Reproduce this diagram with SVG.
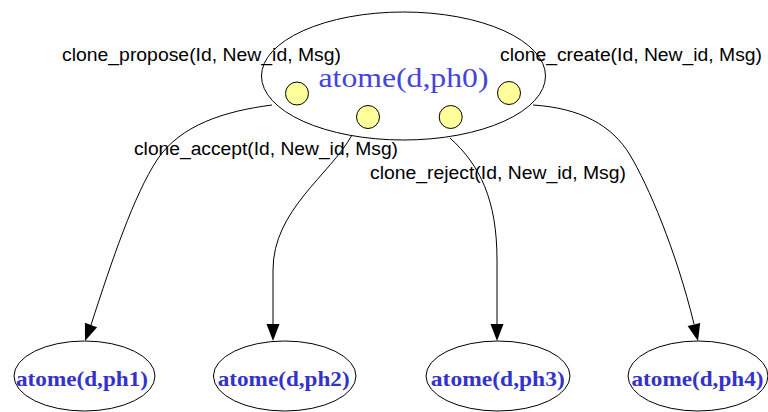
<svg xmlns="http://www.w3.org/2000/svg" width="768" height="412" viewBox="0 0 768 412">
<style>
.node{fill:#ffffff;stroke:#000000;stroke-width:1}
.port{fill:#ffff99;stroke:#000000;stroke-width:1}
.edge{fill:none;stroke:#000000;stroke-width:1}
.head{fill:#000000;stroke:none}
.lbl{font-family:"Liberation Sans",Arial,sans-serif;font-size:18px;fill:#000000}
.big{font-family:"Liberation Serif","Times New Roman",serif;font-size:28px;fill:#4444dd;text-anchor:middle}
.small{font-family:"Liberation Serif","Times New Roman",serif;font-size:22px;font-weight:bold;fill:#3333cc;text-anchor:middle}
</style>
<rect width="768" height="412" fill="#ffffff"/>
<g id="ph0">
<ellipse class="node" cx="403.5" cy="76" rx="142" ry="64"/>
<text class="big" x="403.5" y="87" textLength="170" lengthAdjust="spacingAndGlyphs">atome(d,ph0)</text>
<circle class="port" cx="297" cy="93.5" r="11.5"/>
<circle class="port" cx="368" cy="117" r="11.5"/>
<circle class="port" cx="450.7" cy="117" r="11.5"/>
<circle class="port" cx="509" cy="93" r="11.5"/>
</g>
<g id="ph1">
<ellipse class="node" cx="84.5" cy="376" rx="70.5" ry="35"/>
<text class="small" x="82" y="386" textLength="132" lengthAdjust="spacingAndGlyphs">atome(d,ph1)</text>
</g>
<g id="ph2">
<ellipse class="node" cx="284.7" cy="376" rx="71.3" ry="35"/>
<text class="small" x="283.7" y="386" textLength="132" lengthAdjust="spacingAndGlyphs">atome(d,ph2)</text>
</g>
<g id="ph3">
<ellipse class="node" cx="498" cy="376" rx="72" ry="35"/>
<text class="small" x="497.8" y="386" textLength="134" lengthAdjust="spacingAndGlyphs">atome(d,ph3)</text>
</g>
<g id="ph4">
<ellipse class="node" cx="698" cy="376" rx="70" ry="35"/>
<text class="small" x="697.5" y="386" textLength="132" lengthAdjust="spacingAndGlyphs">atome(d,ph4)</text>
</g>
<g id="connectors">
<path class="edge" d="M272,105 C225,111 180,125 157,160 S112,260 91,325"/>
<polygon class="head" points="85,341 97.1,327.3 84.9,322.7"/>
<path class="edge" d="M352,135 C330,175 273,210 273,270 L273,324"/>
<polygon class="head" points="273,341 266.5,324 279.5,324"/>
<path class="edge" d="M450,138 C480,165 497,200 497,260 L497,324"/>
<polygon class="head" points="497,341 490.5,324 503.5,324"/>
<path class="edge" d="M533,105 C580,108 612,125 630,155 S676,250 694,324"/>
<polygon class="head" points="698,341 700.2,322.9 687.6,326.1"/>
</g>
<g id="labels">
<text class="lbl" x="62" y="61" textLength="279" lengthAdjust="spacingAndGlyphs">clone_propose(Id, New_id, Msg)</text>
<text class="lbl" x="500" y="61" textLength="262" lengthAdjust="spacingAndGlyphs">clone_create(Id, New_id, Msg)</text>
<text class="lbl" x="134" y="155" textLength="264" lengthAdjust="spacingAndGlyphs">clone_accept(Id, New_id, Msg)</text>
<text class="lbl" x="370" y="179" textLength="256" lengthAdjust="spacingAndGlyphs">clone_reject(Id, New_id, Msg)</text>
</g>
</svg>
